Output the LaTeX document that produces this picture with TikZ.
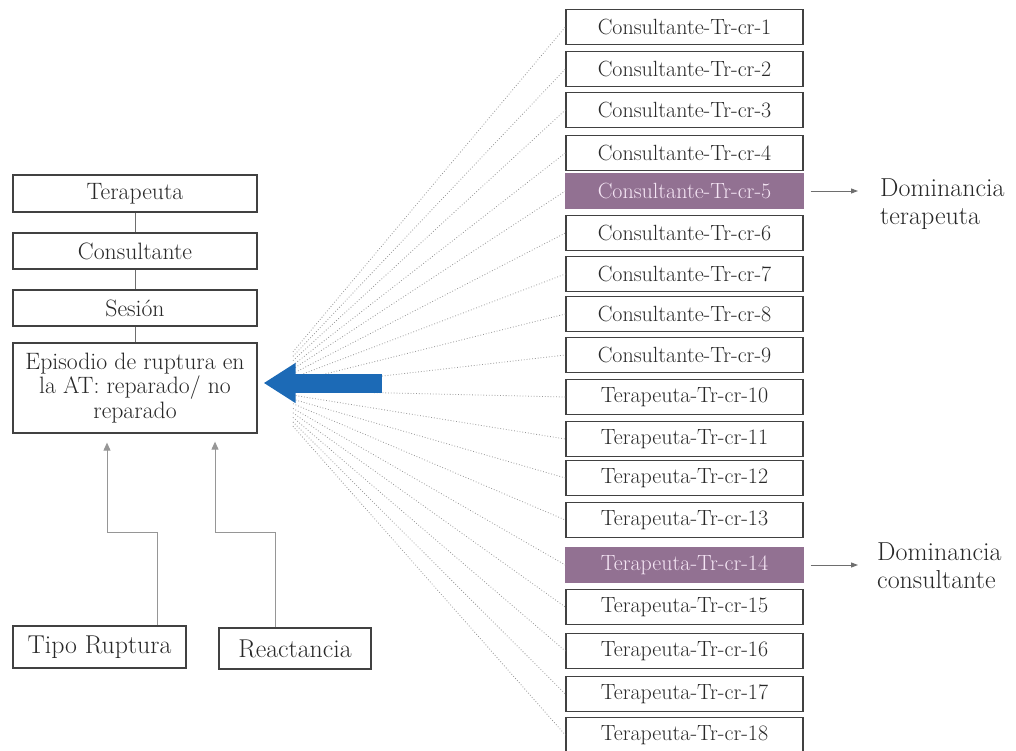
\documentclass[tikz,border=0pt]{standalone}
\usetikzlibrary{arrows.meta,calc}
\definecolor{boxline}{RGB}{65,65,65}
\definecolor{txt}{RGB}{40,40,40}
\definecolor{purp}{RGB}{146,113,146}
\definecolor{purptxt}{RGB}{245,230,245}
\definecolor{bluearr}{RGB}{28,106,182}
\definecolor{lgray}{RGB}{150,150,150}
\definecolor{dgray}{RGB}{110,110,110}
\tikzset{
  lbox/.style={draw=boxline, line width=1.3pt, fill=white, minimum width=244pt, inner sep=0pt, text=txt, font=\fontsize{23.7}{24.5}\selectfont, align=center},
  rbox/.style={draw=boxline, line width=1.3pt, fill=white, minimum width=237pt, minimum height=35pt, inner sep=0pt, text=txt, font=\fontsize{22}{24}\selectfont},
  hbox/.style={rbox, draw=purp, fill=purp, text=purptxt},
  bbox/.style={draw=boxline, line width=1.3pt, inner sep=0pt, text=txt, font=\fontsize{25.8}{27}\selectfont},
  dtext/.style={inner sep=0pt, anchor=west, align=left, text=txt, font=\fontsize{26}{28}\selectfont},
  fan/.style={draw=lgray, dotted, line width=0.8pt},
  stackline/.style={draw=dgray, line width=0.9pt},
  uparr/.style={draw=lgray, line width=1pt, -{Triangle[length=8pt,width=7pt]}},
  sidearr/.style={draw=dgray, line width=0.9pt, -{Triangle[length=7pt,width=5pt]}},
  bigarr/.style={draw=bluearr, line width=19pt, -{Triangle[length=32pt,width=38pt]}}
}
\begin{document}
\begin{tikzpicture}[x=1pt,y=-1pt]
\useasboundingbox (0,0) rectangle (1016,751);

% left stack
\node[lbox, minimum height=37pt] (ter) at (135,193.5) {Terapeuta};
\node[lbox, minimum height=36pt] (con) at (135,251) {Consultante};
\node[lbox, minimum height=36pt] (ses) at (135,308) {Sesión};
\node[lbox, minimum height=90pt] (ep) at (135,388) {Episodio de ruptura en\\la AT: reparado/ no\\reparado};
\draw[stackline] (ter.south) -- (con.north);
\draw[stackline] (con.south) -- (ses.north);
\draw[stackline] (ses.south) -- (ep.north);

% bottom boxes
\node[bbox, minimum width=173pt, minimum height=42pt] (tipo) at (99.5,647) {Tipo Ruptura};
\node[bbox, minimum width=152pt, minimum height=41pt] (rea) at (295,648.5) {Reactancia};
\draw[uparr] ([xshift=57.5pt]tipo.north) -- ++(0,-93) -| ([xshift=-28pt,yshift=-9pt]ep.south);
\draw[uparr] ([xshift=-20pt]rea.north) -- ++(0,-95) -| ([xshift=80pt,yshift=-8pt]ep.south);

% right boxes
\foreach \i/\y/\t in {1/27/Consultante-Tr-cr-1, 2/69/Consultante-Tr-cr-2, 3/110/Consultante-Tr-cr-3, 4/153/Consultante-Tr-cr-4, 6/233/Consultante-Tr-cr-6, 7/274/Consultante-Tr-cr-7, 8/314/Consultante-Tr-cr-8, 9/355/Consultante-Tr-cr-9, 10/397/Terapeuta-Tr-cr-10, 11/439/Terapeuta-Tr-cr-11, 12/478/Terapeuta-Tr-cr-12, 13/520/Terapeuta-Tr-cr-13, 15/607/Terapeuta-Tr-cr-15, 16/651/Terapeuta-Tr-cr-16, 17/694/Terapeuta-Tr-cr-17, 18/735/Terapeuta-Tr-cr-18}
  {\node[rbox] (r\i) at (684.5,\y) {\t};}
\node[hbox] (r5) at (684.5,191) {Consultante-Tr-cr-5};
\node[hbox] (r14) at (684.5,565) {Terapeuta-Tr-cr-14};

% fan of dotted lines
\coordinate (hub) at (261,390);
\foreach \i in {1,...,18}
  {\draw[fan] ($(hub)!0.105!(r\i.west)$) -- (r\i.west);}

% big blue arrow
\coordinate (btail) at (382,383);
\draw[bigarr] (btail) -- ([xshift=6pt]ep.east |- btail);

% dominance labels
\node[dtext] (dt) at (880,204) {Dominancia\\terapeuta};
\node[dtext] (dc) at (877,566) {Dominancia\\consultante};
\draw[sidearr, shorten <=7pt] (r5.east) -- ([xshift=-22pt]dt.west |- r5.east);
\draw[sidearr, shorten <=7pt] (r14.east) -- ([xshift=-19pt]dc.west |- r14.east);
\end{tikzpicture}
\end{document}
